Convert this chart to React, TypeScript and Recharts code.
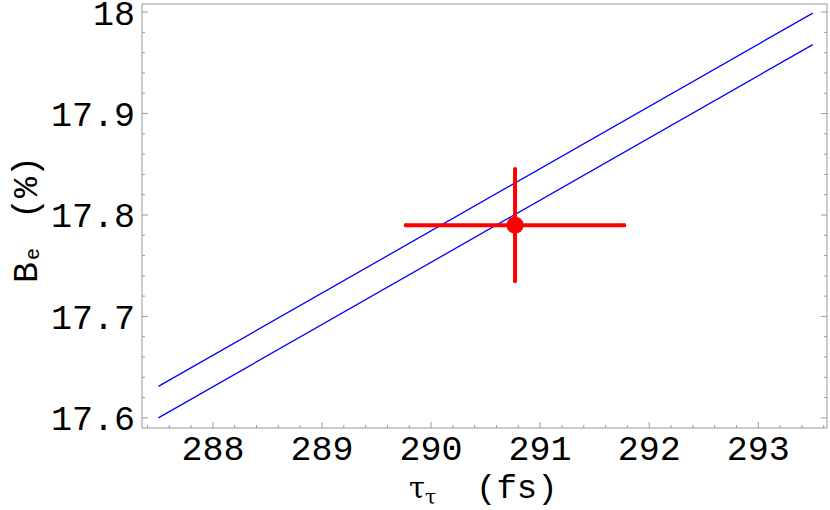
import React from "react";
import { ComposedChart, Line, Scatter, ErrorBar, XAxis, YAxis, Customized } from "recharts";

// axis ticks (major ones carry labels)
const xTicks = [288, 289, 290, 291, 292, 293];
const yTicks = [17.6, 17.7, 17.8, 17.9, 18];

// the two blue bands
const upperLine = [
    { x: 287.5, y: 17.631 },
    { x: 293.5, y: 17.999 },
];
const lowerLine = [
    { x: 287.5, y: 17.6 },
    { x: 293.5, y: 17.968 },
];

// measured point with its errors
const measurement = [{ x: 290.77, y: 17.79, ex: 1.0, ey: 0.055 }];

const X_DOMAIN: [number, number] = [287.35, 293.63];
const Y_DOMAIN: [number, number] = [17.59, 18.008];

const FRAME = "#999999";
const MONO = "'Liberation Mono', 'DejaVu Sans Mono', monospace";

const minorTicks = (lo: number, hi: number, step: number) => {
    const out: number[] = [];
    for (let i = Math.ceil(lo / step); i * step <= hi + 1e-9; i++) out.push(+(i * step).toFixed(4));
    return out;
};

const isMajor = (v: number, list: number[]) => list.some(t => Math.abs(t - v) < 1e-6);

const xAll = minorTicks(X_DOMAIN[0], X_DOMAIN[1], 0.2);
const yAll = minorTicks(Y_DOMAIN[0], Y_DOMAIN[1], 0.02);

const BottomTick = ({ x, y, payload }: any) => {
    const v = payload.value;
    const major = isMajor(v, xTicks);
    return (
        <g>
            <line x1={x} x2={x} y1={y} y2={y - (major ? 6 : 3)} stroke={FRAME} />
            {major && (
                <text x={x} y={y + 32} textAnchor="middle" fontFamily={MONO} fontSize={35} fill="#000">
                    {v}
                </text>
            )}
        </g>
    );
};

const TopTick = ({ x, y, payload }: any) => {
    const major = isMajor(payload.value, xTicks);
    return <line x1={x} x2={x} y1={y} y2={y + (major ? 6 : 3)} stroke={FRAME} />;
};

const LeftTick = ({ x, y, payload }: any) => {
    const v = payload.value;
    const major = isMajor(v, yTicks);
    return (
        <g>
            <line x1={x} x2={x + (major ? 6 : 3)} y1={y} y2={y} stroke={FRAME} />
            {major && (
                <text x={x - 7} y={y + 12.5} textAnchor="end" fontFamily={MONO} fontSize={35} fill="#000">
                    {String(Math.round(v * 10) / 10)}
                </text>
            )}
        </g>
    );
};

const RightTick = ({ x, y, payload }: any) => {
    const major = isMajor(payload.value, yTicks);
    return <line x1={x} x2={x - (major ? 6 : 3)} y1={y} y2={y} stroke={FRAME} />;
};

const AxisTitles = () => (
    <g>
        <text x={409} y={498} fontFamily={MONO} fontSize={34} fill="#000">
            <tspan fontFamily="'DejaVu Serif', serif" fontSize={29}>τ</tspan>
            <tspan fontFamily="'DejaVu Serif', serif" fontSize={20} dy={6}>τ</tspan>
            <tspan x={476} dy={-6}>(fs)</tspan>
        </text>
        <text transform="translate(37,283) rotate(-90)" fontFamily={MONO} fontSize={35} fill="#000">
            <tspan x={0}>B</tspan>
            <tspan x={23} dy={2} fontSize={20}>e</tspan>
            <tspan x={64} dy={-2}>(%)</tspan>
        </text>
    </g>
);

const Dot = ({ cx, cy }: any) => <circle cx={cx} cy={cy} r={8.5} fill="#ff0000" />;

const axisCommon = {
    type: "number" as const,
    allowDataOverflow: true,
    interval: 0 as const,
    tickSize: 0,
    tickMargin: 0,
    tickLine: false,
    axisLine: { stroke: FRAME },
};

export default function App() {
    return (
        <div style={{ position: "absolute", left: 0, top: 0, background: "#fff" }}>
            <ComposedChart width={830} height={510} margin={{ top: 3, right: 2, bottom: 81, left: 141 }}>
                <XAxis {...axisCommon} xAxisId={0} dataKey="x" domain={X_DOMAIN} ticks={xAll} height={1} tick={<BottomTick />} />
                <XAxis {...axisCommon} xAxisId="top" orientation="top" domain={X_DOMAIN} ticks={xAll} height={1} tick={<TopTick />} />
                <YAxis {...axisCommon} yAxisId={0} dataKey="y" domain={Y_DOMAIN} ticks={yAll} width={1} tick={<LeftTick />} />
                <YAxis {...axisCommon} yAxisId="right" orientation="right" domain={Y_DOMAIN} ticks={yAll} width={1} tick={<RightTick />} />
                <Line data={upperLine} dataKey="y" stroke="#0000ff" strokeWidth={1.3} dot={false} isAnimationActive={false} />
                <Line data={lowerLine} dataKey="y" stroke="#0000ff" strokeWidth={1.3} dot={false} isAnimationActive={false} />
                <Scatter data={measurement} dataKey="y" fill="#ff0000" shape={<Dot />} isAnimationActive={false}>
                    <ErrorBar dataKey="ex" direction="x" width={0} stroke="#ff0000" strokeWidth={4} strokeLinecap="round" isAnimationActive={false} />
                    <ErrorBar dataKey="ey" direction="y" width={0} stroke="#ff0000" strokeWidth={4} strokeLinecap="round" isAnimationActive={false} />
                </Scatter>
                <Customized component={AxisTitles} />
            </ComposedChart>
        </div>
    );
}
